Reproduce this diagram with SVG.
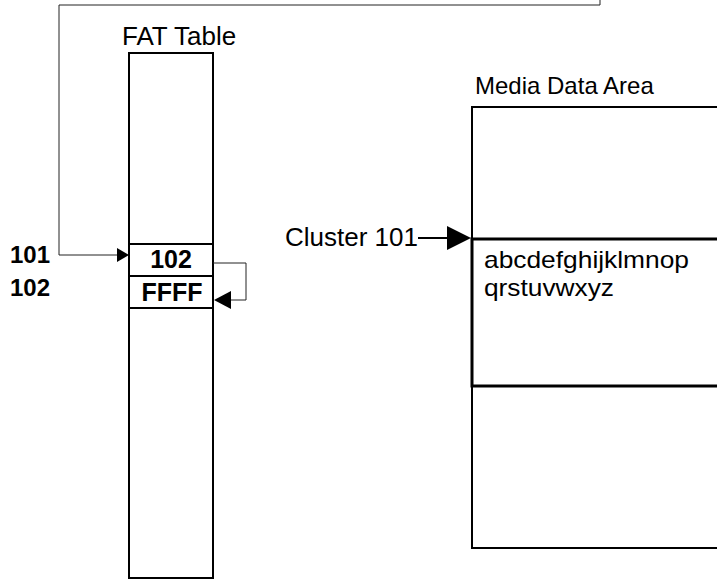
<svg xmlns="http://www.w3.org/2000/svg" width="717" height="580" viewBox="0 0 717 580">
<style>
.t{font-family:"Liberation Sans",Arial,sans-serif;fill:#000}
.b{font-weight:bold;font-size:24px}
.c{font-weight:bold;font-size:25px}
.n{font-size:26px}
.m{font-size:24px}
.box{fill:none;stroke:#000;stroke-width:2}
.thin{fill:none;stroke:#222;stroke-width:1}
</style>
<rect width="717" height="580" fill="#fff"/>
<g id="fat-table">
<text class="t n" x="122" y="45">FAT Table</text>
<rect class="box" x="129" y="53" width="84" height="525"/>
<line class="box" x1="129" y1="244" x2="213" y2="244"/>
<line class="box" x1="129" y1="276" x2="213" y2="276"/>
<line class="box" x1="129" y1="308" x2="213" y2="308"/>
<text class="t c" x="171" y="268" text-anchor="middle">102</text>
<text class="t c" x="172" y="301" text-anchor="middle">FFFF</text>
</g>
<g id="labels">
<text class="t b" x="10" y="263">101</text>
<text class="t b" x="10" y="296">102</text>
</g>
<g id="media-data-area">
<text class="t m" x="475" y="94">Media Data Area</text>
<rect class="box" x="472" y="107" width="260" height="441"/>
</g>
<g id="cluster-101">
<rect fill="none" stroke="#000" stroke-width="3" x="472" y="239" width="260" height="147"/>
<text class="t m" x="484" y="268" textLength="205" lengthAdjust="spacingAndGlyphs">abcdefghijklmnop</text>
<text class="t m" x="484" y="296" textLength="130" lengthAdjust="spacingAndGlyphs">qrstuvwxyz</text>
<text class="t n" x="285" y="246">Cluster 101</text>
</g>
<g id="connectors">
<path class="thin" d="M600,0 V5 H59 V255 H118"/>
<polygon points="117,248 129,255 117,262" fill="#000"/>
<path class="thin" d="M213,263 H246 V300 H231"/>
<polygon points="231,291 214,300 231,309" fill="#000"/>
<line x1="418" y1="238" x2="448" y2="238" stroke="#000" stroke-width="2"/>
<polygon points="447,226 471,238 447,250" fill="#000"/>
</g>
</svg>
